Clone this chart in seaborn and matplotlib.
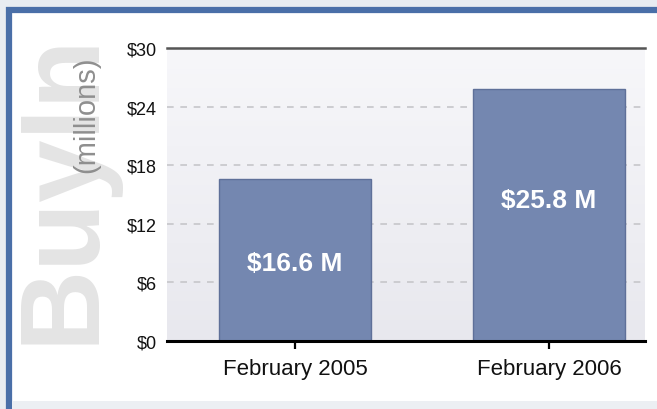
"""
Buy-In 막대 차트 재현 (February 2005 vs February 2006, 단위: 백만 달러)
"""
import numpy as np
import matplotlib
matplotlib.use("Agg")
import matplotlib.pyplot as plt
from matplotlib.colors import LinearSegmentedColormap
from matplotlib.patches import Rectangle
import seaborn as sns

# 데이터
months = ["February 2005", "February 2006"]
buy_in = [16.6, 25.8]
bar_labels = ["$16.6 M", "$25.8 M"]
y_ticks = [0, 6, 12, 18, 24, 30]
y_tick_labels = ["$0", "$6", "$12", "$18", "$24", "$30"]

BAR_COLOR = "#7487b0"
FRAME_BLUE = "#4a6fa8"


def main():
    sns.set_style("white")
    plt.rcParams["font.family"] = ["Liberation Sans", "DejaVu Sans"]

    W, H = 657, 410
    fig = plt.figure(figsize=(W / 100, H / 100), dpi=100)
    fig.patch.set_facecolor("#e8ecf1")

    # 바깥 파란 테두리 + 흰 배경
    frame = Rectangle((9 / W, -40 / H), 700 / W, (H + 40 - 11) / H,
                      transform=fig.transFigure, facecolor="white",
                      edgecolor=FRAME_BLUE, linewidth=4.5, zorder=-10)
    fig.patches.append(frame)
    strip = Rectangle((12 / W, 0), 1, 8 / H, transform=fig.transFigure,
                      facecolor="#eceff3", edgecolor="none", zorder=-9)
    fig.patches.append(strip)

    # 플롯 영역
    ax = fig.add_axes([167 / W, 1 - 342 / H, 478 / W, 293 / H])
    ax.set_facecolor("none")

    sns.barplot(x=months, y=buy_in, color=BAR_COLOR, width=0.6,
                edgecolor="#5f7099", linewidth=1.0, saturation=1, ax=ax,
                zorder=3)

    xlim = (-0.504, 1.378)

    # 그라데이션 배경
    cmap = LinearSegmentedColormap.from_list("bg", ["#e8e8ee", "#f7f7fa"])
    grad = np.linspace(0, 1, 200).reshape(-1, 1)
    ax.imshow(grad, cmap=cmap, origin="lower", aspect="auto",
              extent=[xlim[0], xlim[1], 0, 30], zorder=0)
    ax.set_xlim(*xlim)
    ax.set_ylim(0, 30)

    # 점선 그리드
    for yv in y_ticks[1:-1]:
        ax.axhline(yv, color="#c6c6ca", linewidth=1.2, linestyle=(0, (4, 4)),
                   zorder=1)

    # 축 스타일
    for side in ["left", "right"]:
        ax.spines[side].set_visible(False)
    ax.spines["top"].set_color("#555555")
    ax.spines["top"].set_linewidth(1.8)
    ax.spines["bottom"].set_color("black")
    ax.spines["bottom"].set_linewidth(2.2)
    ax.spines["top"].set_zorder(5)
    ax.spines["bottom"].set_zorder(5)

    ax.set_yticks(y_ticks)
    ax.set_yticklabels(y_tick_labels)
    ax.tick_params(axis="y", length=0, pad=7, labelsize=13, labelcolor="#111111")
    ax.tick_params(axis="x", direction="out", length=6, width=1.6,
                   color="black", pad=6, labelsize=16, labelcolor="#111111")
    ax.xaxis.set_ticks_position("bottom")
    ax.set_xlabel("")
    ax.set_ylabel("")

    # 막대 안 라벨
    label_y = [8.0, 14.4]
    for i, (lab, yy) in enumerate(zip(bar_labels, label_y)):
        ax.text(i, yy, lab, ha="center", va="center", color="white",
                fontsize=19, fontweight="bold", zorder=6)

    # 워터마크 "BuyIn" 과 (millions)
    fig.text(63 / W, 1 - 188 / H, "BuyIn", rotation=90, ha="center",
             va="center", fontsize=81, fontweight="bold", color="#e4e4e4",
             zorder=-5)
    fig.text(86 / W, 1 - 115 / H, "(millions)", rotation=90, ha="center",
             va="center", fontsize=21, color="#8f8f8f", zorder=-4)

    fig.savefig("out.png", dpi=100, facecolor=fig.get_facecolor())


if __name__ == "__main__":
    main()
